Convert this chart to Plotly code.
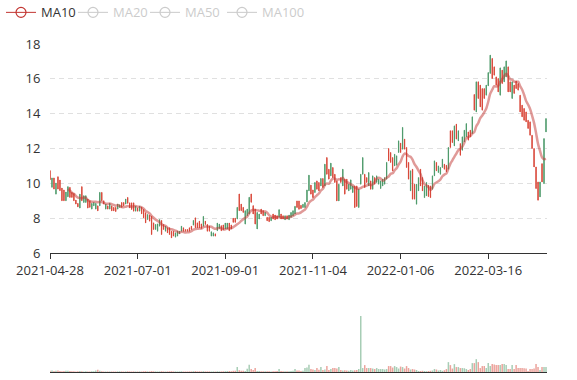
import plotly.graph_objects as go
import pandas as pd

tick_labels = ["2021-04-28", "2021-07-01", "2021-09-01", "2021-11-04", "2022-01-06", "2022-03-16"]
tick_step = 44

opens = [
    10.73, 9.77, 10.31, 9.38, 10.38, 10.19, 9.73, 9.62, 9.00, 9.23,
    9.77, 9.48, 9.42, 9.04, 8.85, 8.58, 9.81, 8.90, 8.90, 9.10,
    9.00, 8.52, 8.71, 8.52, 8.71, 8.71, 9.48, 9.00, 8.52, 8.71,
    8.52, 8.71, 8.62, 8.62, 8.52, 8.62, 8.90, 8.90, 8.81, 9.19,
    8.88, 8.88, 8.88, 8.40, 8.59, 8.40, 8.63, 8.50, 8.31, 7.92,
    8.17, 8.11, 7.73, 7.35, 7.25, 7.54, 7.87, 7.64, 7.25, 7.45,
    7.45, 7.25, 7.25, 6.91, 6.97, 7.10, 7.25, 7.45, 7.35, 7.35,
    7.45, 7.54, 7.60, 8.02, 7.73, 7.83, 7.67, 7.54, 7.83, 7.64,
    7.54, 6.97, 6.97, 7.10, 7.28, 7.41, 7.57, 7.61, 7.38, 7.38,
    7.72, 7.61, 7.99, 8.00, 7.95, 9.39, 8.81, 8.62, 7.66, 8.14,
    8.24, 9.39, 8.72, 8.52, 7.38, 7.95, 8.52, 8.43, 8.14, 8.05,
    8.05, 7.85, 8.24, 8.18, 8.14, 8.05, 8.24, 8.14, 7.91, 8.14,
    7.91, 8.05, 8.14, 8.24, 8.99, 8.99, 8.74, 8.61, 8.61, 8.93,
    9.57, 9.90, 9.62, 9.47, 10.14, 10.05, 9.85, 10.28, 9.85, 11.48,
    10.81, 10.43, 10.91, 10.52, 10.14, 8.99, 10.33, 9.85, 10.24, 10.24,
    9.57, 9.66, 9.47, 9.85, 9.85, 8.61, 9.95, 10.52, 10.52, 10.33,
    9.85, 10.14, 9.66, 10.33, 10.05, 9.95, 9.70, 9.85, 9.95, 10.24,
    12.00, 11.77, 11.48, 11.00, 11.04, 11.77, 12.31, 11.96, 12.54, 12.06,
    11.20, 9.57, 10.81, 9.95, 8.80, 9.57, 10.81, 10.33, 9.18, 9.28,
    9.89, 9.85, 9.66, 10.43, 11.20, 10.62, 10.52, 10.91, 11.10, 11.04,
    10.81, 13.02, 13.02, 12.15, 13.40, 12.44, 12.28, 11.90, 12.38, 12.67,
    12.95, 13.05, 12.86, 15.10, 14.10, 15.83, 15.64, 15.44, 15.44, 15.06,
    15.60, 16.31, 17.17, 16.69, 16.11, 16.02, 15.06, 16.50, 15.83, 16.11,
    16.69, 15.83, 14.87, 15.64, 15.87, 15.73, 15.06, 14.49, 14.30, 14.10,
    13.62, 13.53, 12.76, 12.00, 10.94, 10.08, 9.22, 11.13, 9.98, 12.95,
]
closes = [
    10.21, 10.31, 9.67, 10.02, 9.67, 9.58, 9.00, 9.00, 9.50, 9.81,
    9.19, 9.19, 9.00, 8.81, 8.65, 9.38, 9.00, 9.29, 9.29, 8.58,
    8.62, 8.85, 8.90, 8.85, 8.42, 9.48, 9.00, 8.81, 8.81, 8.52,
    8.85, 8.42, 8.42, 8.38, 8.81, 8.77, 8.62, 8.71, 9.10, 8.85,
    8.59, 8.50, 8.40, 8.69, 8.40, 8.69, 8.25, 8.02, 7.73, 8.21,
    7.83, 7.06, 7.35, 7.64, 7.67, 7.92, 7.06, 7.35, 7.54, 7.16,
    7.06, 6.87, 6.97, 7.16, 7.25, 7.25, 7.54, 7.25, 7.25, 7.25,
    7.25, 7.35, 7.87, 7.45, 7.45, 7.45, 7.41, 8.10, 7.64, 7.25,
    7.25, 7.22, 7.16, 6.97, 7.72, 7.66, 7.28, 7.34, 7.72, 7.72,
    7.28, 7.38, 7.76, 7.76, 8.62, 8.43, 8.43, 8.33, 8.43, 8.52,
    9.20, 8.91, 8.24, 7.66, 8.33, 8.24, 8.24, 8.14, 8.33, 7.85,
    7.80, 8.05, 7.95, 7.91, 7.95, 8.49, 7.95, 7.95, 8.14, 7.95,
    8.18, 8.33, 8.43, 8.68, 8.61, 8.51, 8.55, 8.80, 8.90, 9.62,
    10.47, 9.38, 9.18, 10.05, 9.66, 9.57, 10.28, 9.76, 11.10, 10.52,
    10.24, 11.16, 10.33, 10.05, 8.99, 9.95, 10.05, 10.81, 9.38, 9.66,
    9.95, 10.20, 9.85, 8.61, 8.67, 9.66, 10.52, 11.48, 9.76, 10.05,
    10.62, 9.66, 10.43, 9.95, 10.43, 10.24, 10.14, 10.24, 10.33, 11.20,
    11.29, 11.20, 10.72, 11.67, 11.58, 12.44, 11.77, 13.21, 11.96, 10.91,
    10.24, 10.72, 9.09, 9.09, 9.95, 10.33, 9.85, 9.57, 9.85, 10.05,
    9.24, 9.18, 10.43, 11.29, 10.72, 11.00, 10.91, 11.39, 10.81, 10.66,
    12.06, 12.06, 12.34, 13.30, 12.54, 13.02, 11.61, 12.67, 13.05, 13.43,
    12.48, 12.67, 13.82, 14.20, 15.83, 14.87, 14.39, 14.20, 14.87, 15.64,
    16.36, 17.36, 16.02, 16.21, 15.64, 15.25, 16.63, 15.73, 16.69, 17.03,
    15.25, 15.25, 15.83, 15.16, 15.44, 15.35, 14.10, 13.82, 13.62, 13.53,
    13.15, 12.76, 12.00, 10.94, 9.70, 9.03, 10.08, 10.08, 12.57, 13.72,
]
highs = [
    10.73, 10.31, 10.31, 10.02, 10.38, 10.19, 9.73, 9.62, 9.50, 9.81,
    9.77, 9.48, 9.42, 9.04, 8.85, 9.38, 9.81, 9.29, 9.29, 9.10,
    9.00, 8.85, 8.90, 8.85, 8.71, 9.48, 9.48, 9.00, 8.81, 8.71,
    8.85, 8.71, 8.62, 8.62, 8.81, 8.77, 8.90, 8.90, 9.10, 9.19,
    8.88, 8.88, 8.88, 8.69, 8.59, 8.69, 8.63, 8.50, 8.31, 8.21,
    8.17, 8.11, 7.73, 7.64, 7.67, 7.92, 7.87, 7.64, 7.54, 7.45,
    7.45, 7.25, 7.25, 7.16, 7.25, 7.25, 7.54, 7.45, 7.35, 7.35,
    7.45, 7.54, 7.87, 8.02, 7.73, 7.83, 7.67, 8.10, 7.83, 7.64,
    7.54, 7.22, 7.16, 7.10, 7.72, 7.66, 7.57, 7.61, 7.72, 7.72,
    7.72, 7.61, 7.99, 8.00, 8.62, 9.39, 8.81, 8.62, 8.43, 8.52,
    9.20, 9.39, 8.72, 8.52, 8.33, 8.24, 8.52, 8.43, 8.33, 8.05,
    8.05, 8.05, 8.24, 8.18, 8.14, 8.49, 8.24, 8.14, 8.14, 8.14,
    8.18, 8.33, 8.43, 8.68, 8.99, 8.99, 8.74, 8.80, 8.90, 9.62,
    10.47, 9.90, 9.62, 10.05, 10.14, 10.05, 10.28, 10.28, 11.10, 11.48,
    10.81, 11.16, 10.91, 10.52, 10.14, 9.95, 10.33, 10.81, 10.24, 10.24,
    9.95, 10.20, 9.85, 9.85, 9.85, 9.66, 10.52, 11.48, 10.52, 10.33,
    10.62, 10.14, 10.43, 10.33, 10.43, 10.24, 10.14, 10.24, 10.33, 11.20,
    12.00, 11.77, 11.48, 11.67, 11.58, 12.44, 12.31, 13.21, 12.54, 12.06,
    11.20, 10.72, 10.81, 9.95, 9.95, 10.33, 10.81, 10.33, 9.85, 10.05,
    9.89, 9.85, 10.43, 11.29, 11.20, 11.00, 10.91, 11.39, 11.10, 11.04,
    12.06, 13.02, 13.02, 13.30, 13.40, 13.02, 12.28, 12.67, 13.05, 13.43,
    12.95, 13.05, 13.82, 15.10, 15.83, 15.83, 15.64, 15.44, 15.44, 15.64,
    16.36, 17.36, 17.17, 16.69, 16.11, 16.02, 16.63, 16.50, 16.69, 17.03,
    16.69, 15.83, 15.83, 15.64, 15.87, 15.73, 15.06, 14.49, 14.30, 14.10,
    13.62, 13.53, 12.76, 12.00, 10.94, 10.08, 10.08, 11.13, 12.57, 13.72,
]
lows = [
    10.21, 9.77, 9.67, 9.38, 9.67, 9.58, 9.00, 9.00, 9.00, 9.23,
    9.19, 9.19, 9.00, 8.81, 8.65, 8.58, 9.00, 8.90, 8.90, 8.58,
    8.62, 8.52, 8.71, 8.52, 8.42, 8.71, 9.00, 8.81, 8.52, 8.52,
    8.52, 8.42, 8.42, 8.38, 8.52, 8.62, 8.62, 8.71, 8.81, 8.85,
    8.59, 8.50, 8.40, 8.40, 8.40, 8.40, 8.25, 8.02, 7.73, 7.92,
    7.83, 7.06, 7.35, 7.35, 7.25, 7.54, 7.06, 7.35, 7.25, 7.16,
    7.06, 6.87, 6.97, 6.91, 6.97, 7.10, 7.25, 7.25, 7.25, 7.25,
    7.25, 7.35, 7.60, 7.45, 7.45, 7.45, 7.41, 7.54, 7.64, 7.25,
    7.25, 6.97, 6.97, 6.97, 7.28, 7.41, 7.28, 7.34, 7.38, 7.38,
    7.28, 7.38, 7.76, 7.76, 7.95, 8.43, 8.43, 8.33, 7.66, 8.14,
    8.24, 8.91, 8.24, 7.66, 7.38, 7.95, 8.24, 8.14, 8.14, 7.85,
    7.80, 7.85, 7.95, 7.91, 7.95, 8.05, 7.95, 7.95, 7.91, 7.95,
    7.91, 8.05, 8.14, 8.24, 8.61, 8.51, 8.55, 8.61, 8.61, 8.93,
    9.57, 9.38, 9.18, 9.47, 9.66, 9.57, 9.85, 9.76, 9.85, 10.52,
    10.24, 10.43, 10.33, 10.05, 8.99, 8.99, 10.05, 9.85, 9.38, 9.66,
    9.57, 9.66, 9.47, 8.61, 8.67, 8.61, 9.95, 10.52, 9.76, 10.05,
    9.85, 9.66, 9.66, 9.95, 10.05, 9.95, 9.70, 9.85, 9.95, 10.24,
    11.29, 11.20, 10.72, 11.00, 11.04, 11.77, 11.77, 11.96, 11.96, 10.91,
    10.24, 9.57, 9.09, 9.09, 8.80, 9.57, 9.85, 9.57, 9.18, 9.28,
    9.24, 9.18, 9.66, 10.43, 10.72, 10.62, 10.52, 10.91, 10.81, 10.66,
    10.81, 12.06, 12.34, 12.15, 12.54, 12.44, 11.61, 11.90, 12.38, 12.67,
    12.48, 12.67, 12.86, 14.20, 14.10, 14.87, 14.39, 14.20, 14.87, 15.06,
    15.60, 16.31, 16.02, 16.21, 15.64, 15.25, 15.06, 15.73, 15.83, 16.11,
    15.25, 15.25, 14.87, 15.16, 15.44, 15.35, 14.10, 13.82, 13.62, 13.53,
    13.15, 12.76, 12.00, 10.94, 9.70, 9.03, 9.22, 10.08, 9.98, 12.95,
]
volumes = [
    12, 15, 10, 12, 14, 10, 8, 9, 12, 13,
    10, 8, 7, 6, 7, 9, 8, 6, 7, 6,
    6, 7, 8, 15, 23, 12, 8, 6, 5, 6,
    5, 6, 5, 5, 6, 7, 6, 5, 6, 7,
    6, 5, 6, 5, 5, 6, 5, 7, 8, 6,
    6, 9, 7, 6, 5, 6, 8, 6, 5, 6,
    7, 8, 6, 6, 5, 6, 7, 5, 5, 5,
    6, 6, 8, 9, 6, 7, 6, 8, 6, 6,
    6, 5, 6, 5, 7, 6, 6, 7, 8, 9,
    10, 8, 12, 13, 50, 18, 13, 12, 11, 33,
    73, 30, 20, 40, 10, 9, 8, 7, 8, 7,
    7, 6, 7, 8, 9, 30, 10, 8, 7, 8,
    7, 9, 12, 30, 14, 15, 10, 12, 40, 45,
    73, 30, 25, 20, 40, 22, 50, 20, 25, 60,
    20, 30, 40, 40, 35, 50, 20, 15, 18, 15,
    12, 20, 15, 18, 20, 30, 567, 40, 70, 40,
    40, 40, 35, 30, 40, 30, 30, 30, 25, 30,
    60, 60, 45, 60, 50, 35, 55, 50, 35, 60,
    40, 25, 30, 25, 20, 10, 10, 12, 10, 8,
    10, 12, 15, 30, 25, 15, 20, 12, 18, 30,
    100, 70, 35, 80, 50, 50, 40, 40, 38, 30,
    20, 30, 90, 90, 130, 100, 40, 60, 60, 40,
    90, 60, 80, 75, 70, 72, 70, 80, 80, 70,
    30, 30, 70, 30, 70, 40, 40, 40, 38, 35,
    10, 30, 30, 35, 80, 50, 20, 50, 50, 50,
]

UP = "#4f9b6c"
DOWN = "#d9483a"
UP_VOL = "rgba(79,155,108,0.5)"
DOWN_VOL = "rgba(217,72,58,0.5)"
FONT = "Open Sans, Noto Sans, sans-serif"

n = len(closes)
xs = list(range(n))
close_s = pd.Series(closes)
ma_days = [10, 20, 50, 100]
ma = {d: close_s.rolling(d).mean().round(3).tolist() for d in ma_days}

fig = go.Figure()
fig.add_trace(go.Candlestick(
    x=xs, open=opens, high=highs, low=lows, close=closes,
    increasing=dict(line=dict(color=UP, width=1), fillcolor=UP),
    decreasing=dict(line=dict(color=DOWN, width=1), fillcolor=DOWN),
    whiskerwidth=0, showlegend=False, hoverinfo="skip",
    xaxis="x", yaxis="y",
))

ma_colors = {10: "#c23531", 20: "#2f4554", 50: "#61a0a8", 100: "#d48265"}
legend_names = ["legend", "legend2", "legend3", "legend4"]
for k, d in enumerate(ma_days):
    active = d == 10
    col = ma_colors[d]
    r, g, b = int(col[1:3], 16), int(col[3:5], 16), int(col[5:7], 16)
    fig.add_trace(go.Scatter(
        x=xs, y=ma[d], mode="lines", name=f"MA{d}", legendgroup=f"ma{d}",
        line=dict(color=f"rgba({r},{g},{b},0.5)", width=2.5, shape="spline", smoothing=0.8),
        showlegend=False, hoverinfo="skip",
        visible=True if active else "legendonly",
        xaxis="x", yaxis="y",
    ))
    # legend entry (echarts style icon: line + open circle)
    icon = "#c23531" if active else "#999999"
    label = f"MA{d}" if active else f"<span style='color:#999999'>MA{d}</span>"
    fig.add_trace(go.Scatter(
        x=[None], y=[None], mode="lines+markers", name=label, legendgroup=f"ma{d}",
        legend=legend_names[k],
        line=dict(color=icon, width=1),
        marker=dict(symbol="circle-open", size=10, color=icon, line=dict(width=1.2)),
        visible=True if active else "legendonly",
        xaxis="x", yaxis="y",
    ))

vol_colors = [UP_VOL if c >= o else DOWN_VOL for o, c in zip(opens, closes)]
fig.add_trace(go.Bar(
    x=xs, y=volumes, marker=dict(color=vol_colors, line=dict(width=0)),
    showlegend=False, hoverinfo="skip", xaxis="x2", yaxis="y2",
))

tick_vals = [i * tick_step for i in range(len(tick_labels))]
xr = [0, n - 0.5]

legend_px = [1, 73, 145, 222]
legend_common = dict(
    orientation="h", y=1.142, xanchor="left", yanchor="top",
    font=dict(size=13, color="#333"), bgcolor="rgba(0,0,0,0)",
)
legends = {name: dict(legend_common, x=(px - 50) / 497) for name, px in zip(legend_names, legend_px)}

fig.update_layout(
    width=577, height=380,
    margin=dict(l=50, r=30, t=44, b=8, autoexpand=False),
    paper_bgcolor="white", plot_bgcolor="white",
    font=dict(family=FONT, size=13, color="#333"),
    bargap=0.25,
    boxgap=0.8,
    showlegend=True,
    **legends,
    xaxis=dict(
        domain=[0, 1], anchor="y", range=xr,
        tickmode="array", tickvals=tick_vals, ticktext=tick_labels,
        showline=True, linecolor="#333", linewidth=1,
        ticks="outside", ticklen=5, tickcolor="#333",
        showgrid=False, zeroline=False, rangeslider=dict(visible=False),
        tickfont=dict(size=13, color="#333"), automargin=False,
    ),
    yaxis=dict(
        domain=[0.3628, 1], range=[6, 18], dtick=2, tick0=6,
        showgrid=True, gridcolor="#e0e0e0", griddash="5px,4px", gridwidth=1,
        showline=False, zeroline=False,
        ticks="outside", ticklen=6, tickcolor="rgba(0,0,0,0)",
        tickfont=dict(size=13, color="#333"), automargin=False,
    ),
    xaxis2=dict(
        domain=[0, 1], anchor="y2", range=xr,
        showline=True, linecolor="#333", linewidth=1,
        showticklabels=False, ticks="", showgrid=False, zeroline=False,
    ),
    yaxis2=dict(
        domain=[0, 0.1707], range=[0, 567],
        showgrid=False, showticklabels=False, showline=False, zeroline=False, ticks="",
    ),
)

fig.write_html("out.html")
